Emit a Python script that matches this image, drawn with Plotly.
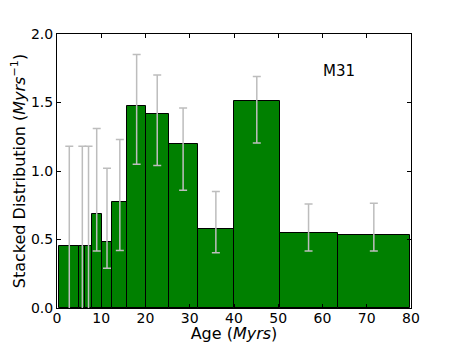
import plotly.graph_objects as go

# bin edges (Myrs) and stacked distribution values
bin_edges = [0.5, 5.05, 6.4, 7.85, 10.1, 12.5, 15.9, 20.1, 25.2, 31.8, 40.0, 50.3, 63.4, 79.8]
heights = [0.455, 0.455, 0.455, 0.686, 0.48, 0.776, 1.477, 1.414, 1.197, 0.574, 1.511, 0.547, 0.533]
err_upper = [1.18, 1.18, 1.18, 1.31, 1.02, 1.23, 1.85, 1.70, 1.46, 0.85, 1.69, 0.76, 0.765]
err_lower = [-0.3, -0.3, -0.3, 0.416, 0.29, 0.42, 1.05, 1.04, 0.86, 0.404, 1.205, 0.416, 0.416]

x_ticks = [0, 10, 20, 30, 40, 50, 60, 70, 80]
y_ticks = [0.0, 0.5, 1.0, 1.5, 2.0]
y_tick_labels = ["0.0", "0.5", "1.0", "1.5", "2.0"]

centers = [(a + b) / 2 for a, b in zip(bin_edges[:-1], bin_edges[1:])]
widths = [b - a for a, b in zip(bin_edges[:-1], bin_edges[1:])]

FONT = "DejaVu Sans"

fig = go.Figure()
fig.add_trace(
    go.Bar(
        x=centers,
        y=heights,
        width=widths,
        marker=dict(color="#008000", line=dict(color="black", width=1)),
        error_y=dict(
            type="data",
            symmetric=False,
            array=[u - h for u, h in zip(err_upper, heights)],
            arrayminus=[h - l for h, l in zip(heights, err_lower)],
            color="#bdbdbd",
            thickness=1.5,
            width=4,
        ),
        showlegend=False,
    )
)

fig.add_annotation(
    x=63.7, y=1.73, text="M31", showarrow=False,
    font=dict(family=FONT, size=15, color="black"),
)

axis_common = dict(
    showline=True, linecolor="black", linewidth=1, mirror="ticks",
    ticks="inside", ticklen=4, tickcolor="black", tickwidth=1,
    showgrid=False, zeroline=False, automargin=False,
    tickfont=dict(family=FONT, size=14, color="black"),
)

fig.update_xaxes(
    range=[0, 80], tickvals=x_ticks, ticklabelstandoff=-3,
    title=dict(text="Age (<i>Myrs</i>)", font=dict(family=FONT, size=16, color="black"), standoff=0),
    **axis_common,
)
fig.update_yaxes(
    range=[0, 2.0], tickvals=y_ticks, ticktext=y_tick_labels,
    title=dict(text="Stacked Distribution (<i>Myrs</i><sup>−1</sup>)",
               font=dict(family=FONT, size=16, color="black"), standoff=6),
    **axis_common,
)

# the page body adds an 8px margin, so the figure is sized 8px smaller
fig.update_layout(
    width=449, height=335,
    margin=dict(l=49, r=46, t=26, b=35),
    plot_bgcolor="white", paper_bgcolor="white",
    bargap=0,
)

fig.write_html("out.html")
